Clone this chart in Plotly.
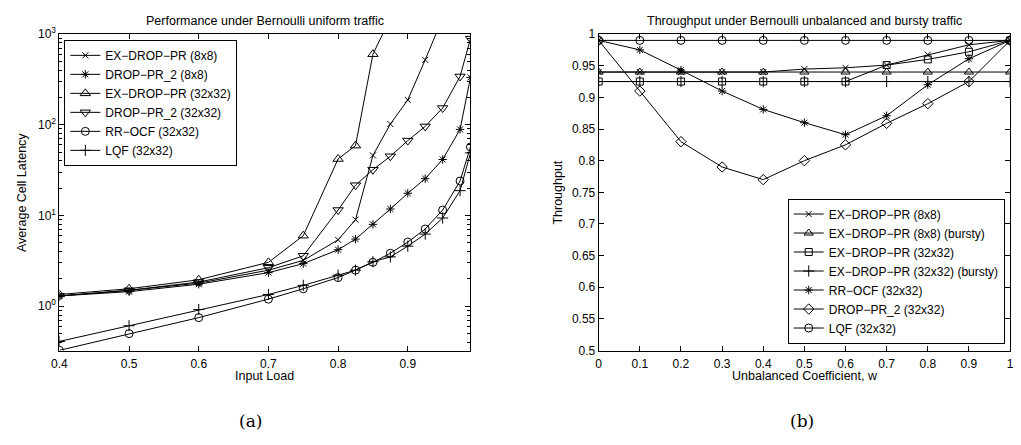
import plotly.graph_objects as go

# ---------------- data: panel (a) ----------------
load_a = [0.4, 0.5, 0.6, 0.7, 0.75, 0.8, 0.825, 0.85, 0.875, 0.9, 0.925, 0.95, 0.975, 0.99]

exdrop_8 = [1.3, 1.5, 1.8, 2.5, 3.2, 5.4, 9.0, 46, 102, 188, 520, 1500]
droppr2_8 = [1.3, 1.45, 1.75, 2.35, 2.95, 4.2, 5.5, 8.0, 11.8, 17.6, 25.5, 41.5, 89, 333]
exdrop_32 = [1.35, 1.56, 1.96, 3.05, 6.0, 42, 59, 600, 1500]
droppr2_32 = [1.3, 1.5, 1.85, 2.66, 3.6, 11.5, 21.6, 32, 45, 67, 96, 153, 341, 890]
rrocf_32 = [0.327, 0.50, 0.75, 1.2, 1.56, 2.07, 2.5, 3.05, 3.84, 5.1, 7.1, 11.5, 24, 57]
lqf_32 = [0.41, 0.61, 0.92, 1.35, 1.7, 2.2, 2.5, 3.1, 3.5, 4.6, 6.25, 9.4, 18.8, 49]

# ---------------- data: panel (b) ----------------
w_b = [0, 0.1, 0.2, 0.3, 0.4, 0.5, 0.6, 0.7, 0.8, 0.9, 1.0]

b_exdrop_8 = [0.94, 0.94, 0.94, 0.94, 0.94, 0.9447, 0.9467, 0.951, 0.9675, 0.983, 0.99]
b_exdrop_8_bursty = [0.94, 0.94, 0.94, 0.94, 0.94, 0.94, 0.94, 0.94, 0.94, 0.94, 0.94]
b_exdrop_32 = [0.925, 0.925, 0.925, 0.925, 0.925, 0.925, 0.925, 0.951, 0.96, 0.972, 0.99]
b_exdrop_32_bursty = [0.925, 0.925, 0.925, 0.925, 0.925, 0.925, 0.925, 0.925, 0.925, 0.925, 0.925]
b_rrocf_32 = [0.99, 0.975, 0.943, 0.910, 0.881, 0.860, 0.841, 0.871, 0.920, 0.961, 0.99]
b_droppr2_32 = [0.99, 0.910, 0.830, 0.790, 0.770, 0.800, 0.825, 0.859, 0.890, 0.925, 0.99]
b_lqf_32 = [0.99, 0.99, 0.99, 0.99, 0.99, 0.99, 0.99, 0.99, 0.99, 0.99, 0.99]

left_ticks = [0.4, 0.5, 0.6, 0.7, 0.8, 0.9]
log_tickvals = [1, 10, 100, 1000]
log_ticktext = ["10<sup>0</sup>", "10<sup>1</sup>", "10<sup>2</sup>", "10<sup>3</sup>"]

FONT = "Arial, Liberation Sans, Helvetica, sans-serif"
W, H = 1021, 445

def px(x):
    return x / W

def py(y):
    return 1 - y / H

fig = go.Figure()

def add(x, y, name, symbol, size, xa, ya, legend):
    fig.add_trace(go.Scatter(
        x=x[:len(y)], y=y, name=name, mode="lines+markers",
        line=dict(color="black", width=1),
        marker=dict(symbol=symbol, size=size, color="black",
                    line=dict(color="black", width=1)),
        xaxis=xa, yaxis=ya, legend=legend))

add(load_a, exdrop_8, "EX\u2212DROP\u2212PR (8x8)", "x-thin-open", 6, "x", "y", "legend")
add(load_a, droppr2_8, "DROP\u2212PR_2 (8x8)", "asterisk-open", 7, "x", "y", "legend")
add(load_a, exdrop_32, "EX\u2212DROP\u2212PR (32x32)", "triangle-up-open", 9, "x", "y", "legend")
add(load_a, droppr2_32, "DROP\u2212PR_2 (32x32)", "triangle-down-open", 9, "x", "y", "legend")
add(load_a, rrocf_32, "RR\u2212OCF (32x32)", "circle-open", 8, "x", "y", "legend")
add(load_a, lqf_32, "LQF (32x32)", "cross-thin-open", 8, "x", "y", "legend")

add(w_b, b_exdrop_8, "EX\u2212DROP\u2212PR (8x8)", "x-thin-open", 6, "x2", "y2", "legend2")
add(w_b, b_exdrop_8_bursty, "EX\u2212DROP\u2212PR (8x8) (bursty)", "triangle-up-open", 8, "x2", "y2", "legend2")
add(w_b, b_exdrop_32, "EX\u2212DROP\u2212PR (32x32)", "square-open", 7, "x2", "y2", "legend2")
add(w_b, b_exdrop_32_bursty, "EX\u2212DROP\u2212PR (32x32) (bursty)", "cross-thin-open", 8, "x2", "y2", "legend2")
add(w_b, b_rrocf_32, "RR\u2212OCF (32x32)", "asterisk-open", 7, "x2", "y2", "legend2")
add(w_b, b_droppr2_32, "DROP\u2212PR_2 (32x32)", "diamond-open", 8, "x2", "y2", "legend2")
add(w_b, b_lqf_32, "LQF (32x32)", "circle-open", 8, "x2", "y2", "legend2")

ydom = [py(354.3), py(26)]
axis_common = dict(showline=True, linecolor="black", linewidth=1, mirror="ticks",
                   ticks="inside", ticklen=5, tickcolor="black", showgrid=False,
                   zeroline=False, tickfont=dict(family=FONT, size=12, color="black"))

minor_vals = []
for dec in [0.1, 1, 10, 100]:
    for k in range(2, 10):
        v = k * dec
        if 0.32 < v < 1000:
            minor_vals.append(v)

fig.update_layout(
    width=W, height=H, margin=dict(l=0, r=0, t=0, b=0),
    paper_bgcolor="white", plot_bgcolor="white",
    font=dict(family=FONT, size=12, color="black"),
    showlegend=True,
    xaxis=dict(domain=[px(52), px(468)], range=[0.4, 0.99], tickvals=left_ticks,
               anchor="y", ticklabelstandoff=2, **axis_common),
    yaxis=dict(domain=ydom, type="log", range=[-0.488, 3], tickvals=log_tickvals,
               ticktext=log_ticktext, anchor="x",
               minor=dict(ticks="inside", ticklen=3, tickcolor="black", tickvals=minor_vals),
               **axis_common),
    xaxis2=dict(domain=[px(597.7), px(1014)], range=[0, 1], dtick=0.1, tick0=0,
                anchor="y2", ticklabelstandoff=2, **axis_common),
    yaxis2=dict(domain=ydom, range=[0.5, 1], dtick=0.05, tick0=0.5, anchor="x2",
                **axis_common),
    legend=dict(x=px(57), y=py(32), xanchor="left", yanchor="top",
                bgcolor="white", bordercolor="black", borderwidth=1,
                font=dict(family=FONT, size=12, color="black"),
                tracegroupgap=0, itemwidth=30),
    legend2=dict(x=px(789), y=py(347), xanchor="left", yanchor="bottom",
                 bgcolor="white", bordercolor="black", borderwidth=1,
                 font=dict(family=FONT, size=12, color="black"),
                 tracegroupgap=0, itemwidth=30),
)

def text(x, y, s, size=12, family=FONT, angle=0):
    fig.add_annotation(x=px(x), y=py(y), xref="paper", yref="paper", text=s,
                       showarrow=False, font=dict(family=family, size=size, color="black"),
                       textangle=angle, xanchor="center", yanchor="middle")

text(260, 12, "Performance under Bernoulli uniform traffic", size=12.5)
text(806, 12, "Throughput under Bernoulli unbalanced and bursty traffic", size=12.5)
text(260, 381, "Input Load", size=12.5)
text(806, 381, "Unbalanced Coefficient, w", size=12.5)
text(14, 190, "Average Cell Latency", size=12.5, angle=-90)
text(557, 190, "Throughput", size=12.5, angle=-90)
text(245, 427, "(a)", size=17, family="DejaVu Serif, Liberation Serif, serif")
text(803, 427, "(b)", size=17, family="DejaVu Serif, Liberation Serif, serif")

fig.write_html("out.html")
